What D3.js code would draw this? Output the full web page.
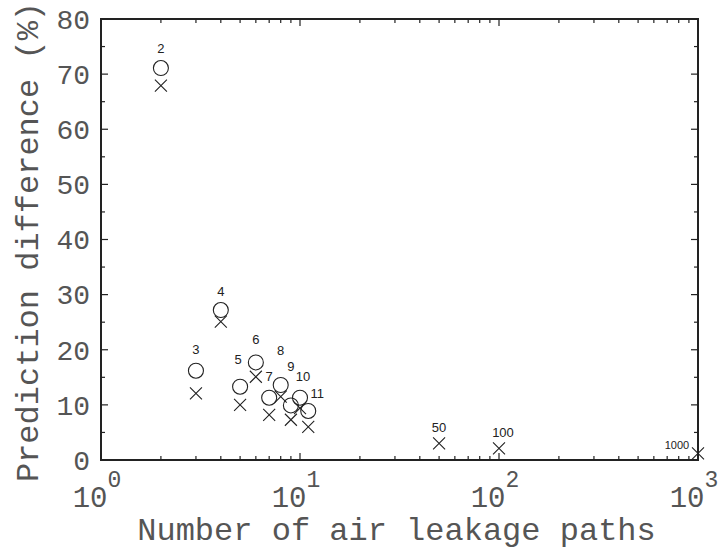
<!DOCTYPE html>
<html>
<head>
<meta charset="utf-8">
<script src="https://cdn.jsdelivr.net/npm/d3@7"></script>
<style>
  body { margin: 0; background: #fff; }
  svg { display: block; }
</style>
</head>
<body>
<svg id="chart" width="722" height="549"></svg>
<script>
// ---- data ----
const pathCounts = [2, 3, 4, 5, 6, 7, 8, 9, 10, 11, 50, 100, 1000];
const circleValues = [71.1, 16.2, 27.2, 13.3, 17.7, 11.3, 13.6, 9.9, 11.3, 8.9, null, null, null];
const crossValues = [67.9, 12.1, 25.1, 10.0, 15.1, 8.2, 11.5, 7.3, 9.4, 6.0, 3.0, 2.1, 1.2];
const pointLabels = ["2", "3", "4", "5", "6", "7", "8", "9", "10", "11", "50", "100", "1000"];
const yTickValues = [0, 10, 20, 30, 40, 50, 60, 70, 80];
const xTickExponents = [0, 1, 2, 3];
const xTitle = "Number of air leakage paths";
const yTitle = "Prediction difference (%)";

// label offsets (pixels, relative to upper marker)
const labelOffsets = [[0,-20],[0,-21],[0,-19],[-2,-27],[0,-23],[0,-21],[0,-35],[0,-39],[3,-21],[9,-17],[0,-16],[4,-16],[-21,-8]];

// ---- layout ----
const svg = d3.select("#chart");
const L = 101, R = 698, T = 19, B = 460;
const x = d3.scaleLog().domain([1, 1000]).range([L, R]);
const y = d3.scaleLinear().domain([0, 80]).range([B, T]);
const ink = "#222";
const textInk = "#555";
const mono = "'Liberation Mono', 'Courier New', monospace";

// frame
svg.append("rect").attr("x", L).attr("y", T).attr("width", R - L).attr("height", B - T)
  .attr("fill", "none").attr("stroke", ink).attr("stroke-width", 2);

// y ticks (major every 10, minor every 5), inward on left and right
const yMinor = d3.range(5, 80, 10);
const tickG = svg.append("g").attr("stroke", ink).attr("stroke-width", 1.2);
yTickValues.forEach(v => {
  tickG.append("line").attr("x1", L).attr("x2", L + 7).attr("y1", y(v)).attr("y2", y(v));
  tickG.append("line").attr("x1", R).attr("x2", R - 7).attr("y1", y(v)).attr("y2", y(v));
});
yMinor.forEach(v => {
  tickG.append("line").attr("x1", L).attr("x2", L + 4).attr("y1", y(v)).attr("y2", y(v));
  tickG.append("line").attr("x1", R).attr("x2", R - 4).attr("y1", y(v)).attr("y2", y(v));
});

// x ticks (log), inward on bottom and top
const xAll = x.ticks();
xAll.forEach(v => {
  const major = Math.abs(Math.log10(v) - Math.round(Math.log10(v))) < 1e-9;
  const len = major ? 7 : 4;
  tickG.append("line").attr("x1", x(v)).attr("x2", x(v)).attr("y1", B).attr("y2", B - len);
  tickG.append("line").attr("x1", x(v)).attr("x2", x(v)).attr("y1", T).attr("y2", T + len);
});

// y tick labels
svg.append("g").selectAll("text").data(yTickValues).join("text")
  .attr("x", 90).attr("y", d => y(d)).attr("dy", "0.35em")
  .attr("text-anchor", "end").attr("font-family", mono).attr("font-size", 28)
  .attr("fill", textInk).text(d => d);

// x tick labels 10^n
const xl = svg.append("g").selectAll("text").data(xTickExponents).join("text")
  .attr("x", d => x(Math.pow(10, d)) - 4).attr("y", 507)
  .attr("text-anchor", "middle").attr("font-family", mono).attr("font-size", 29)
  .attr("fill", textInk);
xl.append("tspan").text("10");
xl.append("tspan").attr("dy", -20).attr("font-size", 23).text(d => d);

// axis titles
svg.append("text").attr("x", (L + R) / 2 - 3).attr("y", 540).attr("text-anchor", "middle")
  .attr("font-family", mono).attr("font-size", 32).attr("fill", textInk).text(xTitle);
svg.append("text").attr("transform", "translate(38,242) rotate(-90)").attr("text-anchor", "middle")
  .attr("font-family", mono).attr("font-size", 32).attr("fill", textInk).text(yTitle);

// markers
const pts = pathCounts.map((n, i) => ({n, c: circleValues[i], x: crossValues[i], label: pointLabels[i], off: labelOffsets[i]}));
const markG = svg.append("g").attr("fill", "none").attr("stroke", ink).attr("stroke-width", 1.1);
pts.filter(d => d.c != null).forEach(d => {
  markG.append("circle").attr("cx", x(d.n)).attr("cy", y(d.c)).attr("r", 7.5);
});
const s = 6;
pts.forEach(d => {
  const cx = x(d.n), cy = y(d.x);
  markG.append("path").attr("d", `M${cx - s},${cy - s}L${cx + s},${cy + s}M${cx - s},${cy + s}L${cx + s},${cy - s}`);
});

// point labels
svg.append("g").selectAll("text").data(pts).join("text")
  .attr("x", d => x(d.n) + d.off[0])
  .attr("y", d => y(d.c != null ? d.c : d.x) + d.off[1])
  .attr("dy", "0.35em").attr("text-anchor", "middle")
  .attr("font-family", "'Liberation Sans', Arial, sans-serif")
  .attr("font-size", d => d.label === "1000" ? 11 : 13)
  .attr("fill", "#222").text(d => d.label);
</script>
</body>
</html>
